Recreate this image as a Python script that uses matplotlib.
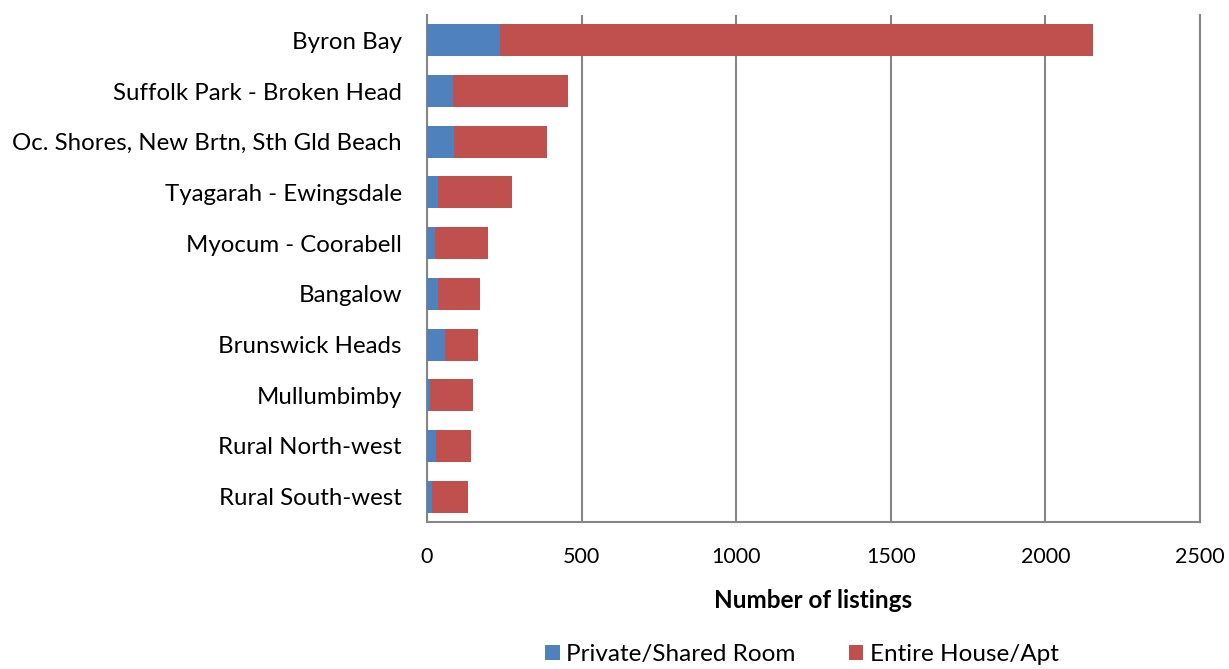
import numpy as np
import matplotlib
matplotlib.use('Agg')
import matplotlib.pyplot as plt

# Listings by locality
localities = ['Byron Bay', 'Suffolk Park - Broken Head', 'Oc. Shores, New Brtn, Sth Gld Beach',
              'Tyagarah - Ewingsdale', 'Myocum - Coorabell', 'Bangalow', 'Brunswick Heads',
              'Mullumbimby', 'Rural North-west', 'Rural South-west']
private_room = [237, 85, 88, 35, 25, 35, 58, 10, 29, 15]
entire_house = [1918, 371, 300, 239, 171, 136, 106, 139, 113, 116]

plt.rcParams['font.family'] = ['Lato', 'DejaVu Sans']

fig = plt.figure(figsize=(12.29, 6.69), dpi=100)
ax = fig.add_axes([427/1229, 1-522/669, (1200-427)/1229, (522-15)/669])

y = np.arange(len(localities))
ax.barh(y, private_room, height=0.63, color='#4f81bd', label='Private/Shared Room', zorder=3)
ax.barh(y, entire_house, left=private_room, height=0.63, color='#c0504d',
        label='Entire House/Apt', zorder=3)

ax.set_ylim(len(localities)-0.5, -0.5)
ax.set_xlim(0, 2500)
ax.set_yticks(y)
ax.set_yticklabels(localities, fontsize=17.3)
ax.set_xticks([0, 500, 1000, 1500, 2000, 2500])
ax.tick_params(axis='x', labelsize=15.5, length=0, pad=18)
ax.tick_params(axis='y', length=0, pad=18)
ax.xaxis.grid(True, color='#868686', linewidth=1.5, zorder=0)
for s in ['left', 'bottom', 'right']:
    ax.spines[s].set_color('#868686')
    ax.spines[s].set_linewidth(1.5)
ax.spines['top'].set_visible(False)
ax.set_xlabel('Number of listings', fontsize=17.5, fontweight='bold', labelpad=16)

ax.legend(loc='center', bbox_to_anchor=(0.485, -0.262), ncol=2, frameon=False,
          fontsize=17.5, handlelength=0.6, handleheight=0.6, handletextpad=0.25,
          columnspacing=2.2, borderpad=0)

fig.savefig('out.png', dpi=100)
